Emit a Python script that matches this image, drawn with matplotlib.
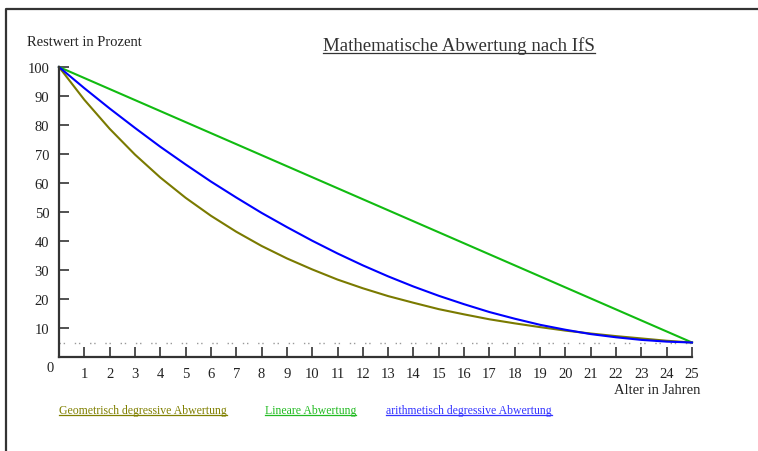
import matplotlib
matplotlib.use("Agg")
import matplotlib.pyplot as plt
from matplotlib.lines import Line2D

# values (Restwert in % per year)
years = list(range(0, 26))
geometrisch = [100, 88.7, 78.7, 69.8, 61.9, 54.9, 48.7, 43.2, 38.3, 34.0, 30.2,
               26.7, 23.7, 21.0, 18.7, 16.5, 14.7, 13.0, 11.6, 10.3, 9.1,
               8.1, 7.2, 6.4, 5.6, 5.0]
linear = [100, 96.2, 92.4, 88.6, 84.8, 81.0, 77.2, 73.4, 69.6, 65.8, 62.0,
          58.2, 54.4, 50.6, 46.8, 43.0, 39.2, 35.4, 31.6, 27.8, 24.0,
          20.2, 16.4, 12.6, 8.8, 5.0]
arithmetisch = [100, 92.7, 85.7, 79.0, 72.5, 66.4, 60.5, 55.0, 49.7, 44.8, 40.1,
                35.7, 31.6, 27.8, 24.3, 21.1, 18.2, 15.5, 13.2, 11.1, 9.4,
                7.9, 6.8, 5.9, 5.3, 5.0]
restwert_min = 5
y_ticks = [10, 20, 30, 40, 50, 60, 70, 80, 90, 100]
x_ticks = list(range(1, 26))

legend_names = ["Geometrisch degressive Abwertung", "Lineare Abwertung",
                "arithmetisch degressive Abwertung"]
legend_colors = ["#808000", "#22bb22", "#3333ff"]

plt.rcParams['font.family'] = ['Liberation Serif', 'DejaVu Serif']

W, H = 758, 452
fig = plt.figure(figsize=(W / 100, H / 100), dpi=100)


def fx(x):
    return x / W


def fy(y):
    return 1 - y / H


txt_col = "#222222"
axis_col = "#333333"

# plot area: x=0 at px 59, x=25 at px 692; y=0 at px 358, y=100 at px 68
ax = fig.add_axes([fx(59), fy(358), fx(692) - fx(59), fy(68) - fy(358)])
ax.set_xlim(0, 25)
ax.set_ylim(0, 100)

ax.plot([0, 25], [restwert_min, restwert_min], color="#999999", lw=1,
        dashes=(1, 2, 1, 7), clip_on=False)
ax.plot(years, linear, color="#11bb11", lw=1.5, clip_on=False)
ax.plot(years, geometrisch, color="#7a7a00", lw=1.5, clip_on=False)
ax.plot(years, arithmetisch, color="#0000ff", lw=1.5, clip_on=False)

for s in ["top", "right"]:
    ax.spines[s].set_visible(False)
for s in ["left", "bottom"]:
    ax.spines[s].set_color(axis_col)
    ax.spines[s].set_linewidth(1.6)

# ticks reach ~10px into the plot and ~4px outside: major inward, minor outward
ax.set_xticks(x_ticks)
ax.set_yticks(y_ticks)
ax.set_xticks(x_ticks, minor=True)
ax.set_yticks(y_ticks, minor=True)
ax.tick_params(axis="both", which="major", direction="in", length=7.5, width=1.2,
               color=axis_col, labelcolor=txt_col, labelsize=10.5)
ax.tick_params(axis="both", which="minor", direction="out", length=3.5, width=1.2,
               color=axis_col, labelbottom=False, labelleft=False)
ax.tick_params(axis="x", which="major", pad=7)
ax.tick_params(axis="y", which="major", pad=7)

fig.text(fx(50), fy(368), "0", ha="center", va="center", fontsize=10.5, color=txt_col)
fig.text(fx(27), fy(43), "Restwert in Prozent", ha="left", va="center",
         fontsize=10.5, color=txt_col)
fig.text(fx(700), fy(391), "Alter in Jahren", ha="right", va="center",
         fontsize=10.5, color=txt_col)

title = fig.text(fx(459), fy(46), "Mathematische Abwertung nach IfS", ha="center",
                 va="center", fontsize=13.6, color="#333333")

leg_x = [59, 265, 386]
leg_texts = []
for name, col, x in zip(legend_names, legend_colors, leg_x):
    t = fig.text(fx(x), fy(411), name, ha="left", va="center", fontsize=8.5, color=col)
    leg_texts.append(t)

# frame lines (left and top)
fig.add_artist(Line2D([fx(6), fx(6), fx(758)], [fy(452), fy(10), fy(10)],
                      color="#333333", lw=1.6, transform=fig.transFigure))

# underline title and legend entries
fig.canvas.draw()
r = fig.canvas.get_renderer()
for t in [title] + leg_texts:
    bb = t.get_window_extent(r)
    y = bb.y0 + 1
    fig.add_artist(Line2D([bb.x0 / W, bb.x1 / W], [y / H, y / H],
                          color=t.get_color(), lw=0.9, transform=fig.transFigure))

fig.savefig("out.png", dpi=100)
